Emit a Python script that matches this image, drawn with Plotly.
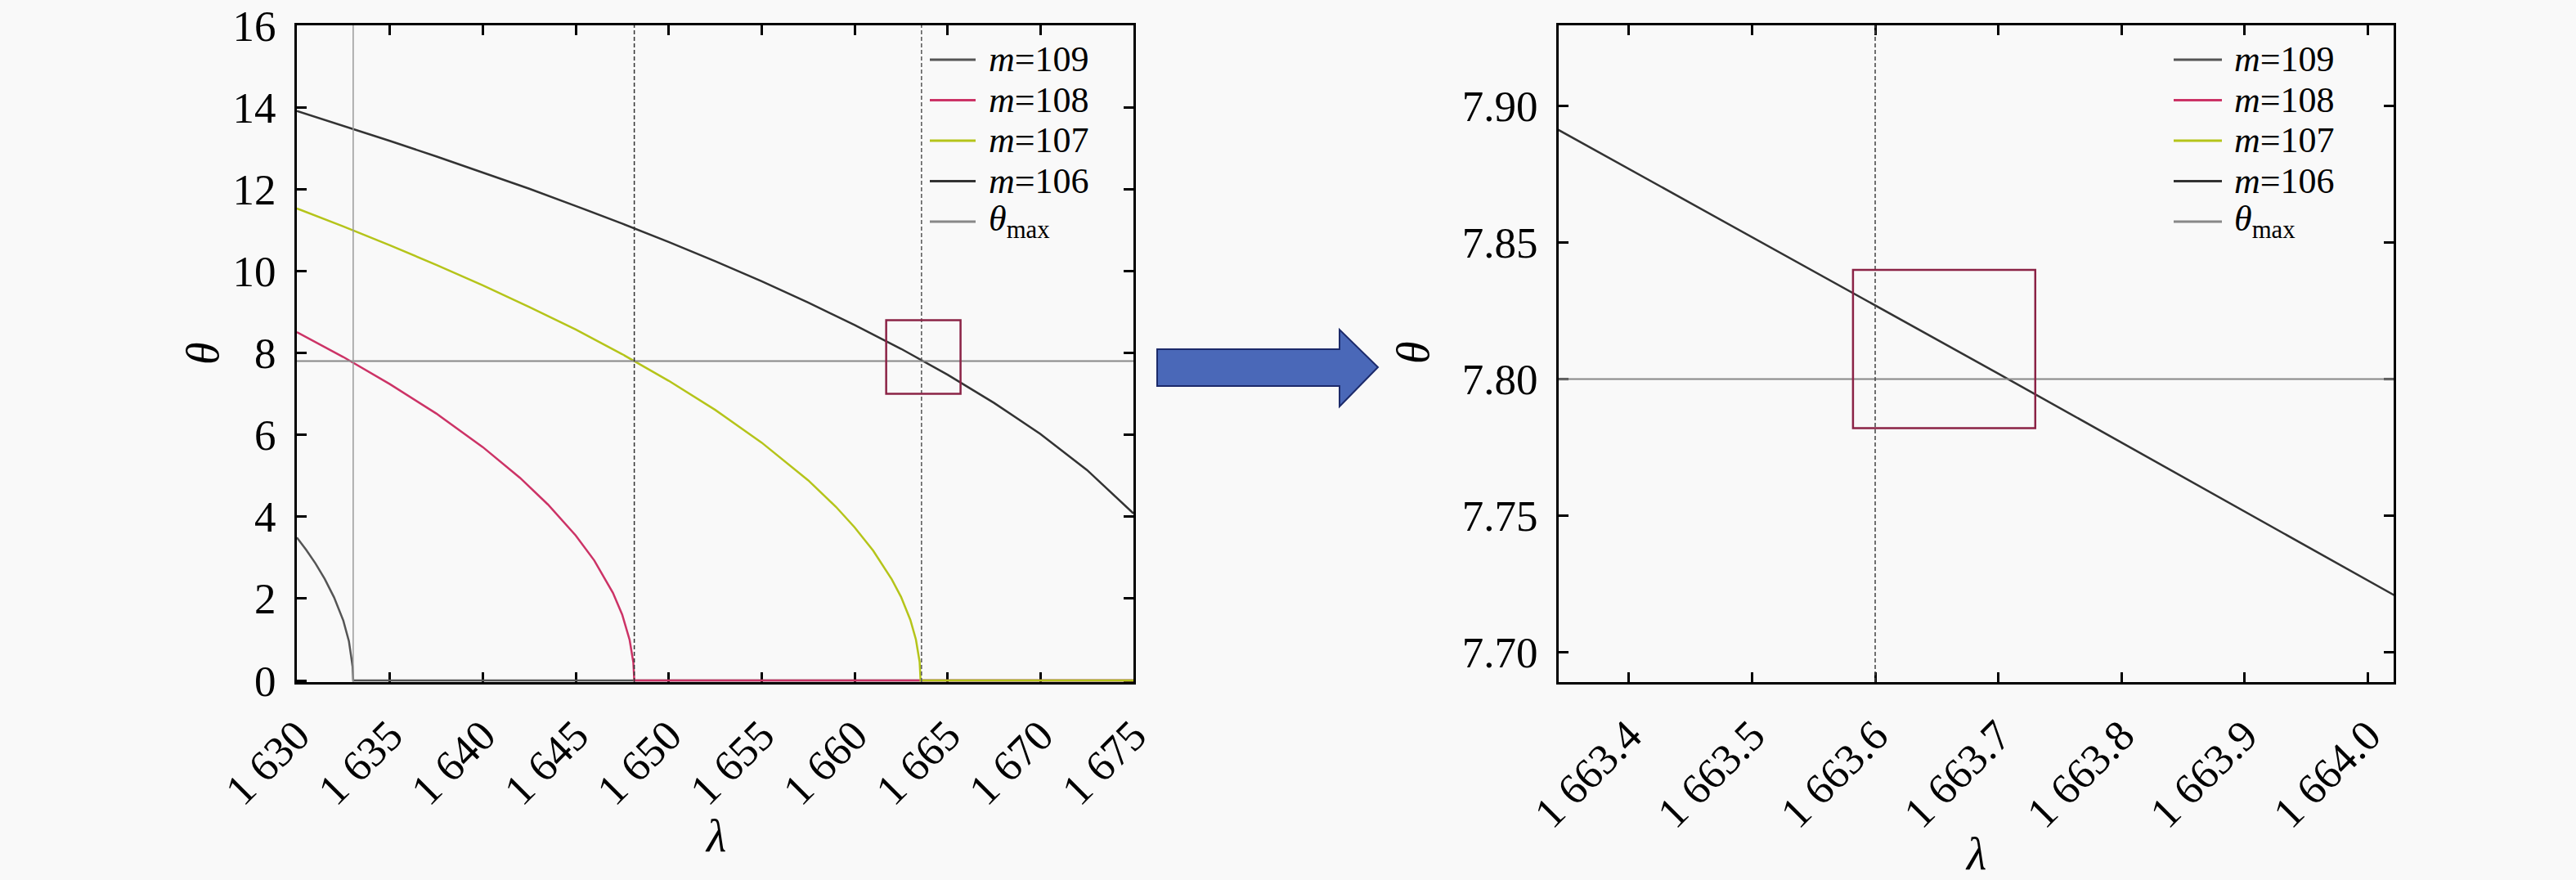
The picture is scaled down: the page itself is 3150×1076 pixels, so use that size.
import plotly.graph_objects as go

# wavelength (nm) / diffraction angle (deg)
lam_109 = [1630, 1630.5, 1631, 1631.5, 1632, 1632.5, 1632.8, 1633, 1633.03, 1675]
theta_109 = [3.49, 3.19, 2.86, 2.48, 2.03, 1.46, 0.96, 0.34, 0, 0]

lam_108 = [1630, 1632.5, 1635, 1637.5, 1640, 1642, 1643.5, 1645, 1646, 1647,
           1647.5, 1647.9, 1648.1, 1648.15, 1675]
theta_108 = [8.51, 7.90, 7.24, 6.52, 5.70, 4.95, 4.30, 3.54, 2.93, 2.14,
             1.61, 0.99, 0.44, 0, 0]

lam_107 = [1630, 1632.5, 1635, 1637.5, 1640, 1642.5, 1645, 1647.5, 1650, 1652.5,
           1655, 1657.5, 1659, 1660, 1661, 1662, 1662.5, 1663, 1663.3, 1663.5,
           1663.55, 1675]
theta_107 = [11.53, 11.09, 10.63, 10.15, 9.65, 9.12, 8.57, 7.97, 7.32, 6.61,
             5.81, 4.89, 4.24, 3.74, 3.17, 2.47, 2.04, 1.48, 1.00, 0.45,
             0, 0]

lam_106 = [1630, 1632.5, 1635, 1637.5, 1640, 1642.5, 1645, 1647.5, 1650, 1652.5,
           1655, 1657.5, 1660, 1662.5, 1665, 1667.5, 1670, 1672.5, 1675]
theta_106 = [13.91, 13.55, 13.18, 12.80, 12.41, 12.01, 11.59, 11.16, 10.71, 10.24,
             9.75, 9.23, 8.68, 8.10, 7.47, 6.78, 6.02, 5.14, 4.08]

# right panel (zoomed) m=106 segment
zoom_lam = [1663.3, 1663.6, 1663.7, 1664.1]
zoom_theta = [7.902, 7.827, 7.802, 7.701]

theta_max = 7.8
left_span = [1630, 1675]
right_span = [1663.3, 1664.1]

# vertical marker lines
vline_solid = 1633.03
vline_dash = [1648.15, 1663.6]
vline_zoom = 1663.6

# zoom boxes [x0, x1, y0, y1]
box_left = [1661.7, 1665.7, 7.0, 8.8]
box_right = [1663.582, 1663.730, 7.782, 7.840]

left_ticks = [1630, 1635, 1640, 1645, 1650, 1655, 1660, 1665, 1670, 1675]
left_ticktext = ["1 630", "1 635", "1 640", "1 645", "1 650", "1 655",
                 "1 660", "1 665", "1 670", "1 675"]
right_ticks = [1663.4, 1663.5, 1663.6, 1663.7, 1663.8, 1663.9, 1664.0]
right_ticktext = ["1 663.4", "1 663.5", "1 663.6", "1 663.7", "1 663.8",
                  "1 663.9", "1 664.0"]

names = ["<i>m</i>=109", "<i>m</i>=108", "<i>m</i>=107", "<i>m</i>=106",
         "<i>θ</i><sub>max</sub>"]
colors = ["#555555", "#cc3366", "#b5c41a", "#333333", "#888888"]

W, H = 3150, 1076
FONT = "Liberation Serif, Times New Roman, DejaVu Serif, serif"
BG = "#f9f9f9"


def px(x, y):
    return x / W, 1 - y / H


fig = go.Figure()

curves = [(lam_109, theta_109), (lam_108, theta_108),
          (lam_107, theta_107), (lam_106, theta_106)]
for (lx, ty), name, col in zip(curves, names, colors):
    fig.add_trace(go.Scatter(x=lx, y=ty, mode="lines", name=name,
                             line=dict(color=col, width=2.5),
                             showlegend=False, xaxis="x", yaxis="y"))
fig.add_trace(go.Scatter(x=left_span, y=[theta_max, theta_max], mode="lines",
                         name=names[4], line=dict(color=colors[4], width=2),
                         showlegend=False, xaxis="x", yaxis="y"))

fig.add_trace(go.Scatter(x=zoom_lam, y=zoom_theta, mode="lines", name=names[3],
                         line=dict(color=colors[3], width=2.5),
                         showlegend=False, xaxis="x2", yaxis="y2"))
fig.add_trace(go.Scatter(x=right_span, y=[theta_max, theta_max], mode="lines",
                         name=names[4], line=dict(color=colors[4], width=2),
                         showlegend=False, xaxis="x2", yaxis="y2"))

# vertical lines
fig.add_shape(type="line", xref="x", yref="y domain", x0=vline_solid, x1=vline_solid,
              y0=0, y1=1, line=dict(color="#9a9a9a", width=1.5))
for v, c in zip(vline_dash, ["#333333", "#555555"]):
    fig.add_shape(type="line", xref="x", yref="y domain", x0=v, x1=v, y0=0, y1=1,
                  line=dict(color=c, width=1.5, dash="5px,3px"))
fig.add_shape(type="line", xref="x2", yref="y2 domain", x0=vline_zoom, x1=vline_zoom,
              y0=0, y1=1, line=dict(color="#444444", width=1.5, dash="5px,3px"))

# zoom boxes
fig.add_shape(type="rect", xref="x", yref="y", x0=box_left[0], x1=box_left[1],
              y0=box_left[2], y1=box_left[3], line=dict(color="#8b2346", width=2.5))
fig.add_shape(type="rect", xref="x2", yref="y2", x0=box_right[0], x1=box_right[1],
              y0=box_right[2], y1=box_right[3], line=dict(color="#8b2346", width=2.5))

# block arrow between panels
pts = [(1415, 427), (1638, 427), (1638, 403), (1685, 449), (1638, 497),
       (1638, 472), (1415, 472)]
path = "M " + " L ".join("%.5f,%.5f" % px(x, y) for x, y in pts) + " Z"
fig.add_shape(type="path", xref="paper", yref="paper", path=path,
              fillcolor="#4a68b8", line=dict(color="#1c2a6a", width=2))

# legends drawn by hand to keep the rows tight
legend_specs = [(1137, 1193, 1208, 73), (2658, 2717, 2731, 73)]
for x0, x1, xt, ytop in legend_specs:
    for i, (name, col) in enumerate(zip(names, colors)):
        yy = ytop + i * 49.5
        fig.add_shape(type="line", xref="paper", yref="paper",
                      x0=px(x0, yy)[0], x1=px(x1, yy)[0],
                      y0=px(x0, yy)[1], y1=px(x0, yy)[1],
                      line=dict(color=col, width=3))
        fig.add_annotation(xref="paper", yref="paper", x=px(xt, yy)[0], y=px(xt, yy)[1],
                           text=name, showarrow=False, xanchor="left", yanchor="middle",
                           borderpad=0,
                           font=dict(family=FONT, size=44, color="black"))

# axis titles
for (x, y), t, ang in [((248, 432), "<i>θ</i>", -90), ((1728, 431), "<i>θ</i>", -90),
                       ((875, 1022), "<i>λ</i>", 0), ((2416, 1044), "<i>λ</i>", 0)]:
    fig.add_annotation(xref="paper", yref="paper", x=px(x, y)[0], y=px(x, y)[1],
                       text=t, showarrow=False, textangle=ang,
                       xanchor="center", yanchor="middle",
                       font=dict(family=FONT, size=56, color="black"))

ydom = [1 - 834 / H, 1 - 31 / H]
axis_common = dict(showline=True, linewidth=3, linecolor="black", mirror="ticks",
                   ticks="inside", ticklen=12, tickwidth=2.5, tickcolor="black",
                   showgrid=False, zeroline=False, layer="below traces",
                   automargin=False, ticklabeloverflow="allow",
                   tickfont=dict(family=FONT, size=53, color="black"))

fig.update_layout(
    template="none",
    width=W, height=H,
    margin=dict(l=0, r=0, t=0, b=0),
    paper_bgcolor=BG, plot_bgcolor=BG,
    showlegend=False,
    font=dict(family=FONT),
    xaxis=dict(domain=[363 / W, 1386 / W], range=left_span, tickvals=left_ticks,
               ticktext=left_ticktext, tickangle=-45, anchor="y",
               ticklabelstandoff=10, **axis_common),
    yaxis=dict(domain=ydom, range=[-0.04, 16.001], tickvals=list(range(0, 17, 2)),
               anchor="x", ticklabelstandoff=12, **axis_common),
    xaxis2=dict(domain=[1906 / W, 2927 / W], range=[1663.343, 1664.021],
                tickvals=right_ticks, ticktext=right_ticktext, tickangle=-45,
                anchor="y2", ticklabelstandoff=10, **axis_common),
    yaxis2=dict(domain=ydom, range=[7.689, 7.9296], tickvals=[7.70, 7.75, 7.80, 7.85, 7.90],
                tickformat=".2f", anchor="x2", ticklabelstandoff=12, **axis_common),
)

# drop the default page margin so the figure sits at the window's top-left
fig.write_html("out.html", config={"displayModeBar": False},
               post_script="document.body.style.margin='0';")
